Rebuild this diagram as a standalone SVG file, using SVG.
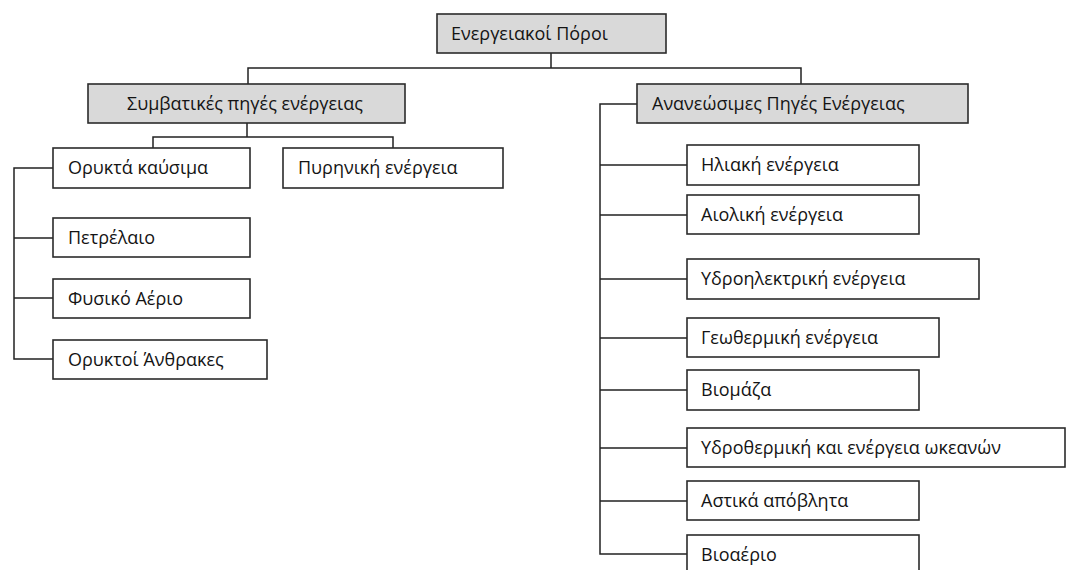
<svg xmlns="http://www.w3.org/2000/svg" width="1067" height="570" viewBox="0 0 1067 570">
<style>
.box{fill:#ffffff;stroke:#2b2b2b;stroke-width:1.6}
.hd{fill:#d9d9d9}
.lbl{font-family:"Open Sans","Noto Sans","DejaVu Sans",sans-serif;font-size:18px;fill:#141414}
.cn{fill:none;stroke:#222222;stroke-width:1.5}
</style>
<rect width="1067" height="570" fill="#ffffff"/>
<g id="connectors">
<path class="cn" d="M551,53 V68 M248,84 V68 H801 V84"/>
<path class="cn" d="M247,123 V137 M153,148 V137 H393 V148"/>
<path class="cn" d="M53,168 H14 V359 H53 M14,238 H53 M14,298 H53"/>
<path class="cn" d="M637,104 H600 V554 H687 M600,165 H687 M600,215 H687 M600,279 H687 M600,338 H687 M600,390 H687 M600,448 H687 M600,501 H687"/>
</g>
<g id="n-root"><rect class="box hd" x="437" y="14" width="229" height="39"/><text class="lbl" x="451" y="40">Ενεργειακοί Πόροι</text></g>
<g id="n-conv"><rect class="box hd" x="88" y="84" width="317" height="39"/><text class="lbl" x="127" y="110">Συμβατικές πηγές ενέργειας</text></g>
<g id="n-fossil"><rect class="box" x="53" y="148" width="197" height="40"/><text class="lbl" x="68" y="174">Ορυκτά καύσιμα</text></g>
<g id="n-nuclear"><rect class="box" x="283" y="148" width="220" height="40"/><text class="lbl" x="298" y="174">Πυρηνική ενέργεια</text></g>
<g id="n-oil"><rect class="box" x="53" y="218" width="197" height="39"/><text class="lbl" x="68" y="244">Πετρέλαιο</text></g>
<g id="n-gas"><rect class="box" x="53" y="279" width="197" height="39"/><text class="lbl" x="68" y="305">Φυσικό Αέριο</text></g>
<g id="n-coal"><rect class="box" x="53" y="340" width="214" height="39"/><text class="lbl" x="68" y="366">Ορυκτοί Άνθρακες</text></g>
<g id="n-ren"><rect class="box hd" x="637" y="84" width="331" height="39"/><text class="lbl" x="652" y="110">Ανανεώσιμες Πηγές Ενέργειας</text></g>
<g id="n-solar"><rect class="box" x="687" y="145" width="232" height="40"/><text class="lbl" x="701" y="171">Ηλιακή ενέργεια</text></g>
<g id="n-wind"><rect class="box" x="687" y="195" width="232" height="39"/><text class="lbl" x="701" y="221">Αιολική ενέργεια</text></g>
<g id="n-hydro"><rect class="box" x="687" y="259" width="292" height="40"/><text class="lbl" x="701" y="285">Υδροηλεκτρική ενέργεια</text></g>
<g id="n-geo"><rect class="box" x="687" y="318" width="252" height="39"/><text class="lbl" x="701" y="344">Γεωθερμική ενέργεια</text></g>
<g id="n-bio"><rect class="box" x="687" y="370" width="232" height="40"/><text class="lbl" x="701" y="396">Βιομάζα</text></g>
<g id="n-ocean"><rect class="box" x="687" y="428" width="378" height="39"/><text class="lbl" x="701" y="454">Υδροθερμική και ενέργεια ωκεανών</text></g>
<g id="n-waste"><rect class="box" x="687" y="481" width="232" height="39"/><text class="lbl" x="701" y="507">Αστικά απόβλητα</text></g>
<g id="n-biogas"><rect class="box" x="687" y="535" width="232" height="40"/><text class="lbl" x="701" y="561">Βιοαέριο</text></g>
</svg>
